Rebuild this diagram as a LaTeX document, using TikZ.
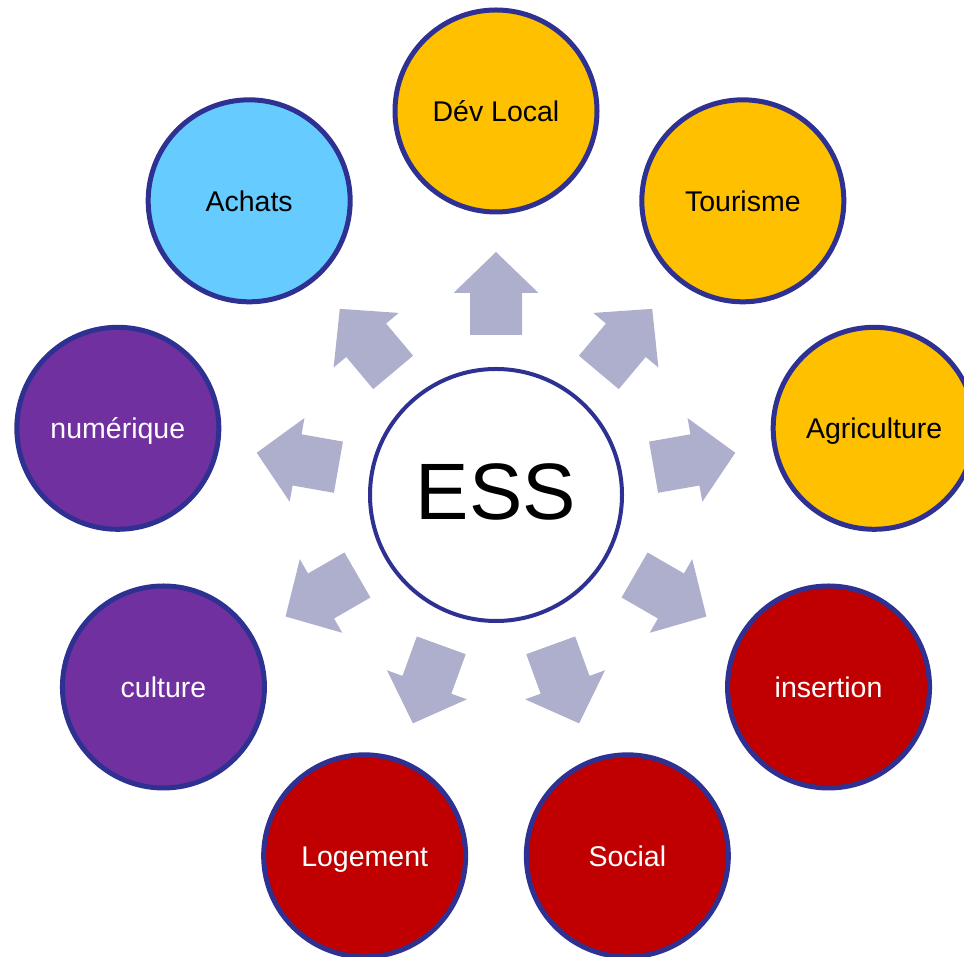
\documentclass[tikz,border=0pt]{standalone}
\usepackage{fontspec}
\setmainfont{Liberation Sans}
\definecolor{rim}{RGB}{46,49,146}
\definecolor{gold}{RGB}{255,192,0}
\definecolor{sky}{RGB}{102,204,255}
\definecolor{violetfill}{RGB}{112,48,160}
\definecolor{crimson}{RGB}{192,0,0}
\definecolor{arrowgray}{RGB}{173,175,204}
\begin{document}
\begin{tikzpicture}[x=1pt,y=1pt,
  topic/.style={circle, draw=rim, line width=5pt, minimum size=202pt, inner sep=0pt,
    font=\fontsize{28.5}{30}\selectfont, text height=20.5pt, text depth=0pt},
  hub/.style={circle, draw=rim, line width=4pt, minimum size=252pt, inner sep=0pt, fill=white},
  blockarrow/.style={fill=arrowgray}]
\useasboundingbox (0,0) rectangle (964,957);
\clip (0,0) rectangle (964,957);
\coordinate (c) at (496,462);
\foreach \a in {90,50,10,-30,-70,-110,-150,170,130}
  \fill[blockarrow, shift={(c)}, rotate=\a-90]
    (-26,160) -- (26,160) -- (26,202) -- (42.5,202) -- (0,243) -- (-42.5,202) -- (-26,202) -- cycle;
\node[hub] (ess) at (c) {};
\node[font=\fontsize{80}{80}\selectfont, text height=57pt, text depth=0pt, inner sep=0pt]
  (esslabel) at ([yshift=3.5pt]c) {ESS};
\foreach \a/\n/\f/\t/\l in {
  90/dev/gold/black/Dév Local,
  50/tourisme/gold/black/Tourisme,
  10/agri/gold/black/Agriculture,
  -30/insertion/crimson/white/insertion,
  -70/social/crimson/white/Social,
  -110/logement/crimson/white/Logement,
  -150/culture/violetfill/white/culture,
  170/numerique/violetfill/white/numérique,
  130/achats/sky/black/Achats}
  \node[topic, fill=\f, text=\t] (\n) at ([shift={(\a:384)}]c) {\l};
\end{tikzpicture}
\end{document}
